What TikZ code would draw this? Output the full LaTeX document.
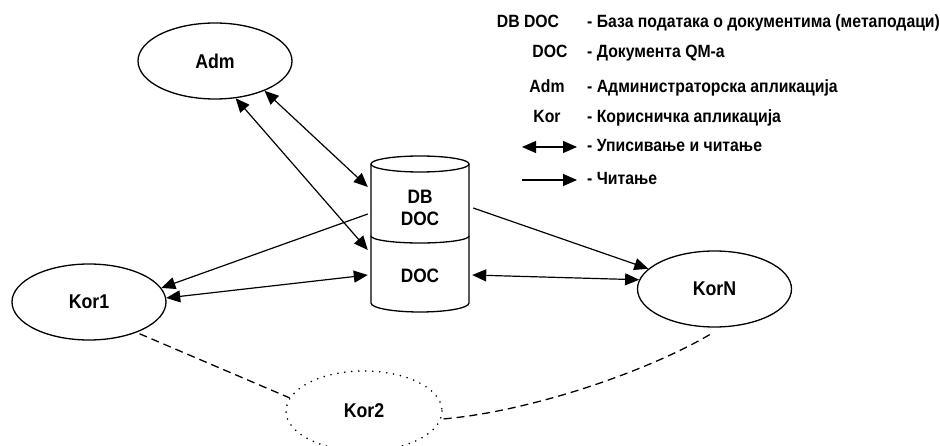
\documentclass[tikz,border=0pt]{standalone}
\usepackage{fontspec}
\setmainfont{Liberation Sans}[FakeStretch=0.89]
\usetikzlibrary{arrows.meta,shapes.geometric}
\begin{document}
\begin{tikzpicture}[x=1bp,y=-1bp,
  ell/.style={draw, ellipse, line width=1.3bp, minimum width=154bp, minimum height=76bp, inner sep=0pt, font=\fontsize{20}{22}\selectfont\bfseries},
  cylpart/.style={inner sep=0pt, minimum width=98bp, align=center, font=\fontsize{19.5}{22}\selectfont\bfseries},
  cylline/.style={line width=1.3bp},
  both/.style={line width=1.2bp, {Triangle[length=14bp,width=12bp]}-{Triangle[length=14bp,width=12bp]}},
  read/.style={line width=1.2bp, -{Triangle[length=14bp,width=12bp]}},
  link/.style={dash pattern=on 8bp off 5bp, line width=1.3bp},
  legtext/.style={anchor=base west, inner sep=0pt, font=\fontsize{17.8}{20}\selectfont\bfseries},
  legkey/.style={anchor=base, inner sep=0pt, font=\fontsize{17.8}{20}\selectfont\bfseries}
]
\useasboundingbox (0,0) rectangle (940,446);

% ellipses
\node[ell] (Adm) at (215,61) {Adm};
\node[ell] (Kor1) at (89,302) {Kor1};
\node[ell] (KorN) at (714.5,289) {KorN};
\node[ell, draw=none, minimum width=156bp, minimum height=80bp] (Kor2) at (364,411) {Kor2};
\draw[line width=1.8bp, dash pattern=on 0bp off 7bp, line cap=round] (364,411) ellipse [x radius=78, y radius=40];

% cylinder
\draw[cylline] (371,164) -- (371,303) arc[start angle=180,end angle=0,x radius=49,y radius=9] -- (469,164);
\draw[cylline] (420,164) ellipse [x radius=49, y radius=8];
\draw[cylline] (371,236) arc[start angle=180,end angle=0,x radius=49,y radius=7];
\node[cylpart, minimum height=68bp] (dbdoc) at (420,207.5) {DB\\DOC};
\node[cylpart, minimum height=60bp] (doc) at (420,276) {DOC};

% connectors
\draw[both] (Adm.-31) -- ([xshift=-3bp,yshift=20.5bp]dbdoc.west);
\draw[both] (Adm.-61) -- ([xshift=-3bp,yshift=26bp]doc.west);
\draw[read] ([xshift=-3bp,yshift=-6.5bp]dbdoc.west) -- (Kor1.11);
\draw[both] (Kor1.3) -- ([xshift=-3bp,yshift=1bp]doc.west);
\draw[read] ([xshift=4bp,yshift=-0.5bp]dbdoc.east) -- (KorN.163.5);
\draw[both] ([xshift=3bp,yshift=1bp]doc.east) -- (KorN.173.5);

% dashed links
\draw[link] ([xshift=1bp,yshift=-2bp]Kor1.-31) -- (Kor2.170);
\draw[link] ([yshift=-7bp]KorN.-97) .. controls (648,371) and (530,412) .. (Kor2.-6);

% legend
\node[legkey] (kDB) at (528,28) {DB DOC};
\node[legtext] (tDB) at (587,28) {- База података о документима (метаподаци)};
\node[legkey] (kDOC) at (550,58) {DOC};
\node[legtext] (tDOC) at (587,58) {- Документа QM-а};
\node[legkey] (kAdm) at (547,93) {Adm};
\node[legtext] (tAdm) at (587,93) {- Администраторска апликација};
\node[legkey] (kKor) at (547,123) {Kor};
\node[legtext] (tKor) at (587,123) {- Корисничка апликација};
\coordinate (w1) at (522,147);
\coordinate (w2) at (577,147);
\draw[both] (w1) -- (w2);
\node[legtext] (tW) at (587,152) {- Уписивање и читање};
\coordinate (r1) at (522,180);
\coordinate (r2) at (577,180);
\draw[read] (r1) -- (r2);
\node[legtext] (tR) at (587,185) {- Читање};
\end{tikzpicture}
\end{document}
